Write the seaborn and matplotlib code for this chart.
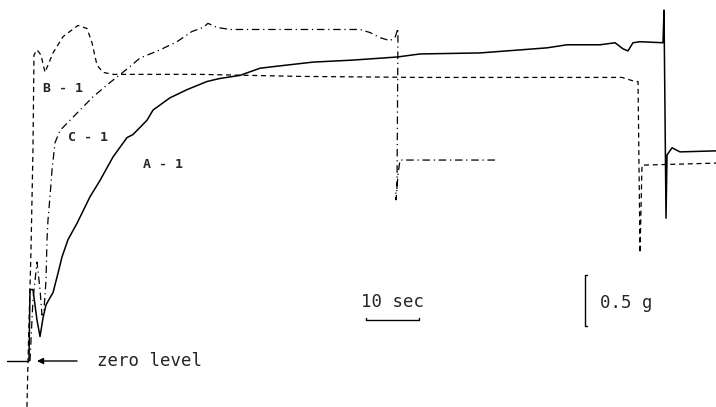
import matplotlib
matplotlib.use("Agg")
import matplotlib.pyplot as plt
import seaborn as sns
import pandas as pd

# traces: time in sec, tension in g (0 = zero level)
a_time = [0.0, 0.19, 0.75, 1.51, 2.08, 2.64, 3.21, 3.96, 4.53, 5.47, 6.23, 7.36, 9.06,
          11.51, 13.40, 15.85, 18.49, 19.62, 22.26, 23.40, 26.60, 29.81, 33.58, 36.04,
          39.81, 43.58, 46.79, 53.58, 61.13, 69.43, 73.77, 85.09, 97.74, 101.51, 107.74,
          110.57, 112.08, 113.02, 113.96, 115.28, 119.62, 119.81, 120.19, 120.38, 121.32,
          122.83, 129.62]
a_force = [0.0, 0.70, 0.70, 0.40, 0.24, 0.42, 0.55, 0.62, 0.67, 0.86, 1.02, 1.19, 1.35,
           1.61, 1.77, 2.00, 2.19, 2.22, 2.36, 2.46, 2.58, 2.66, 2.74, 2.77,
           2.80, 2.87, 2.89, 2.93, 2.95, 2.98, 3.01, 3.02, 3.07, 3.10, 3.10,
           3.12, 3.06, 3.04, 3.12, 3.13, 3.12, 3.44, 1.40, 2.02, 2.09,
           2.05, 2.06]

b_time = [-0.38, -0.19, 0.38, 0.75, 0.94, 1.51, 2.26, 3.02, 4.53, 6.42, 9.25, 10.94,
          11.89, 12.83, 13.96, 15.85, 32.26, 51.13, 73.77, 107.74, 111.89, 114.34,
          114.91, 115.28, 115.66, 129.62]
b_force = [-0.45, 0.0, 1.09, 2.07, 3.00, 3.05, 3.00, 2.83, 3.02, 3.18, 3.29, 3.26,
           3.12, 2.90, 2.83, 2.81, 2.81, 2.79, 2.78, 2.78, 2.78, 2.74,
           2.74, 1.06, 1.92, 1.94]

c_time = [0.19, 0.75, 1.51, 2.08, 2.45, 2.83, 3.21, 3.40, 3.58, 3.96, 4.34, 4.91, 5.85,
          10.19, 12.08, 15.28, 18.68, 20.94, 24.72, 27.92, 30.75, 32.83, 33.77, 35.47,
          37.92, 51.70, 62.45, 64.34, 66.23, 68.11, 69.06, 69.62, 69.43, 69.06, 69.25,
          69.62, 70.00, 87.92]
c_force = [0.0, 0.60, 0.97, 0.70, 0.45, 0.50, 0.79, 1.19, 1.38, 1.61, 1.87, 2.14, 2.26,
           2.49, 2.59, 2.73, 2.87, 2.97, 3.05, 3.13, 3.23, 3.27, 3.31, 3.27,
           3.25, 3.25, 3.25, 3.22, 3.17, 3.14, 3.17, 3.26, 1.68, 1.62, 1.58,
           1.83, 1.97, 1.97]

labels = ["A - 1", "B - 1", "C - 1"]
label_time = [21.5, 2.64, 7.36]
label_force = [1.93, 2.67, 2.19]

sns.set_style("white")
mono = ["DejaVu Sans Mono"]

fig = plt.figure(figsize=(7.16, 4.07), dpi=100)
ax = fig.add_axes([0, 0, 1, 1])

df_a = pd.DataFrame({"t": a_time, "g": a_force})
df_b = pd.DataFrame({"t": b_time, "g": b_force})
df_c = pd.DataFrame({"t": c_time, "g": c_force})

sns.lineplot(data=df_a, x="t", y="g", sort=False, estimator=None, color="black",
             lw=1.1, ax=ax)
sns.lineplot(data=df_b, x="t", y="g", sort=False, estimator=None, color="black",
             lw=0.9, linestyle=(0, (4, 3)), ax=ax)
sns.lineplot(data=df_c, x="t", y="g", sort=False, estimator=None, color="black",
             lw=0.9, linestyle=(0, (6, 3, 1, 3)), ax=ax)

for lab, t, g in zip(labels, label_time, label_force):
    ax.text(t, g, lab, family=mono, fontsize=9.5, fontweight="bold",
            va="center", ha="left")

# zero level marker
ax.plot([-4.15, -0.19], [0, 0], color="black", lw=1.0)
ax.annotate("", xy=(1.51, 0), xytext=(9.06, 0),
            arrowprops=dict(arrowstyle="-|>", color="black", lw=1.0,
                            mutation_scale=9, shrinkA=0, shrinkB=0))
ax.text(12.83, 0, "zero level", family=mono, fontsize=12.5, va="center", ha="left")

# time scale bar (10 sec)
ax.plot([63.58, 63.58, 73.58, 73.58], [0.42, 0.40, 0.40, 0.42], color="black", lw=1.0)
ax.text(62.64, 0.58, "10 sec", family=mono, fontsize=12.5, va="center", ha="left")

# force scale bar (0.5 g)
ax.plot([105.3, 104.9, 104.9, 105.3], [0.843, 0.843, 0.343, 0.343], color="black", lw=1.0)
ax.text(107.74, 0.57, "0.5 g", family=mono, fontsize=12.5, va="center", ha="left")

ax.set_xlim(-5.47, 129.62)
ax.set_ylim(-0.451, 3.539)
ax.set_axis_off()

fig.savefig("out.png", dpi=100)
